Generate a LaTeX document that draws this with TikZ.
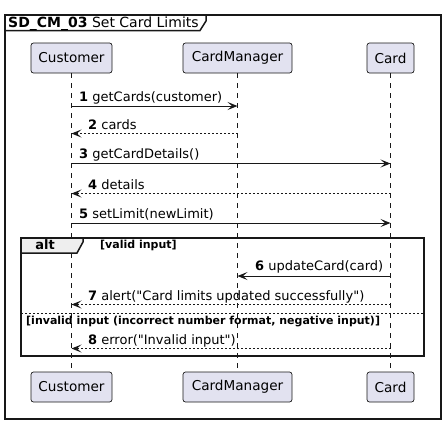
\documentclass[tikz,border=0pt]{standalone}
\usepackage{fontspec}
\setmainfont{DejaVu Sans}[Ligatures=TeXOff]
\usetikzlibrary{arrows.meta}
\definecolor{lnc}{HTML}{181818}
\definecolor{pfill}{HTML}{E2E2F0}
\definecolor{tabfill}{HTML}{EEEEEE}
\tikzset{
  part/.style={draw=lnc, fill=pfill, rounded corners=2.5pt, line width=0.7pt, minimum height=30pt, inner sep=0pt, font=\fontsize{13.6}{16}\selectfont, text=black},
  life/.style={draw=lnc, line width=0.6pt, dash pattern=on 5pt off 5pt},
  msg/.style={draw=lnc, line width=1pt, -{Stealth[length=10pt,width=8pt,inset=4.5pt]}},
  ret/.style={msg, dash pattern=on 2pt off 2pt},
  lbl/.style={anchor=base west, inner sep=0pt, font=\fontsize{13}{15}\selectfont, text=black},
  grp/.style={anchor=base west, inner sep=0pt, font=\fontsize{11}{13}\selectfont\bfseries, text=black},
}
\begin{document}
\begin{tikzpicture}[x=1pt,y=-1pt]
\useasboundingbox (0,0) rectangle (446,424);
% outer frame
\draw[lnc, line width=1.5pt] (5,15) rectangle (441,419);
\draw[lnc, line width=1.5pt] (5,30.5) -- (200,30.5) -- (206,21) -- (206,15);
\node[anchor=base west, inner sep=0pt, font=\fontsize{14}{16}\selectfont] (title) at (8,27) {\textbf{SD\_CM\_03} Set Card Limits};
% participants
\node[part, minimum width=81pt] (custT) at (71.5,58) {Customer};
\node[part, minimum width=109pt] (mgrT) at (237.5,58) {CardManager};
\node[part, minimum width=47pt] (cardT) at (390.5,58) {Card};
\node[part, minimum width=81pt] (custB) at (71.5,387) {Customer};
\node[part, minimum width=109pt] (mgrB) at (237.5,387) {CardManager};
\node[part, minimum width=47pt] (cardB) at (390.5,387) {Card};
\draw[life] (custT.south) -- (custB.north);
\draw[life] (mgrT.south) -- (mgrB.north);
\draw[life] (cardT.south) -- (cardB.north);
% alt group
\draw[lnc, line width=2pt] (21,238) rectangle (424,356);
\filldraw[draw=lnc, fill=tabfill, line width=1.5pt] (21,238) -- (83,238) -- (83,242) -- (77,253) -- (21,253) -- cycle;
\node[anchor=base, inner sep=0pt, font=\fontsize{13}{15}\selectfont\bfseries] (alt) at (45,249.5) {alt};
\node[grp] (g1) at (100,248.5) {[valid input]};
\draw[lnc, line width=1pt, dash pattern=on 2pt off 2pt] (21,313.5) -- (424,313.5);
\node[grp] (g2) at (26,324) {[invalid input (incorrect number format, negative input)]};
% message coordinates
\coordinate (c1) at (71.5,106); \coordinate (m1) at (237.5,106);
\coordinate (c2) at (71.5,133.5); \coordinate (m2) at (237.5,133.5);
\coordinate (c3) at (71.5,163.5); \coordinate (k3) at (390.5,163.5);
\coordinate (c4) at (71.5,193.5); \coordinate (k4) at (390.5,193.5);
\coordinate (c5) at (71.5,223); \coordinate (k5) at (390.5,223);
\coordinate (m6) at (237.5,276); \coordinate (k6) at (390.5,276);
\coordinate (c7) at (71.5,304.5); \coordinate (k7) at (390.5,304.5);
\coordinate (c8) at (71.5,348.5); \coordinate (k8) at (390.5,348.5);
% messages
\draw[msg] (c1) -- (m1);
\node[lbl] (l1) at (79,101) {\textbf{1} getCards(customer)};
\draw[ret] (m2) -- (c2);
\node[lbl] (l2) at (88,129) {\textbf{2} cards};
\draw[msg] (c3) -- (k3);
\node[lbl] (l3) at (79,158.5) {\textbf{3} getCardDetails()};
\draw[ret] (k4) -- (c4);
\node[lbl] (l4) at (88,189) {\textbf{4} details};
\draw[msg] (c5) -- (k5);
\node[lbl] (l5) at (79,218) {\textbf{5} setLimit(newLimit)};
\draw[msg] (k6) -- (m6);
\node[lbl] (l6) at (255,270.5) {\textbf{6} updateCard(card)};
\draw[ret] (k7) -- (c7);
\node[lbl] (l7) at (88,300) {\textbf{7} alert("Card limits updated successfully")};
\draw[ret] (k8) -- (c8);
\node[lbl] (l8) at (88,344) {\textbf{8} error("Invalid input")};
\end{tikzpicture}
\end{document}
